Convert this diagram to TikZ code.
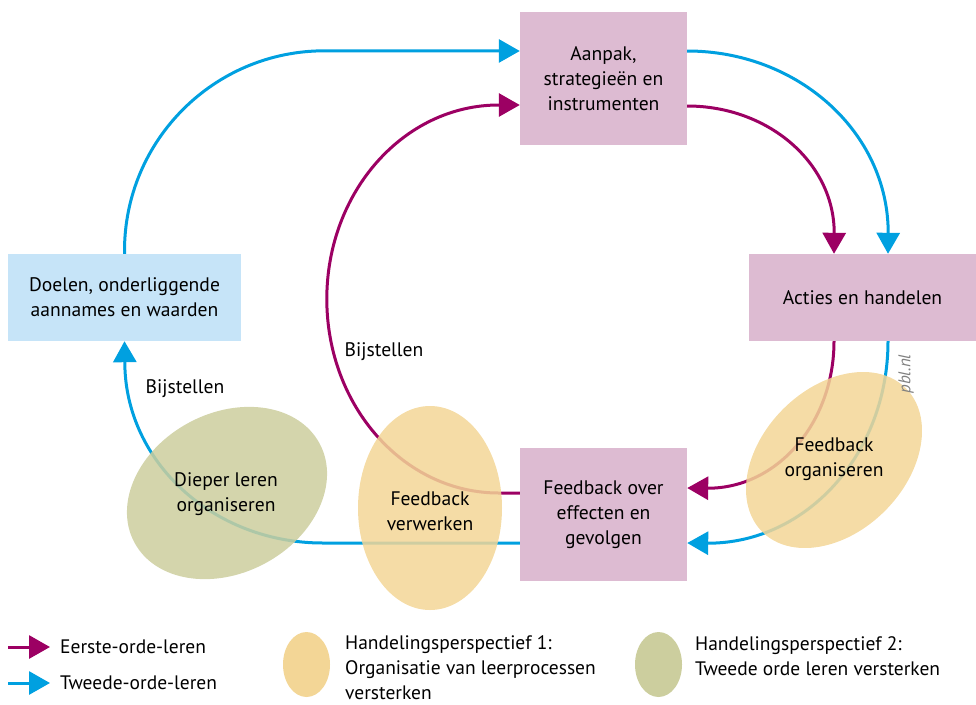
\documentclass[tikz,border=0pt]{standalone}
\usepackage{fontspec}
\setmainfont{PT Sans}
\usetikzlibrary{arrows.meta}
\definecolor{mag}{HTML}{9C0063}
\definecolor{cya}{HTML}{00A0E0}
\definecolor{pinkbox}{HTML}{DDBBD2}
\definecolor{bluebox}{HTML}{C6E4F8}
\definecolor{ora}{HTML}{F3D696}
\definecolor{gre}{HTML}{CCCE9E}
\newcommand\mainfs{\fontsize{19.6}{25}\selectfont}
\newcommand\legfs{\fontsize{19.5}{25}\selectfont}
\tikzset{
  boxnode/.style={inner sep=0pt, align=center, font=\mainfs},
  lbl/.style={inner sep=0pt, align=center, font=\mainfs},
  arr/.style={line width=3pt, -{Triangle[length=21pt,width=23pt]}},
  blob/.style={fill opacity=0.85},
  legtxt/.style={inner sep=0pt, align=left, font=\legfs, anchor=north west}
}
\begin{document}
\begin{tikzpicture}[x=1pt,y=-1pt]
\useasboundingbox (0,0) rectangle (976,704);
% boxes
\node[boxnode, fill=pinkbox, minimum width=167pt, minimum height=133pt] (aanpak) at (603.5,78.5) {Aanpak,\\strategieën en\\instrumenten};
\node[boxnode, fill=pinkbox, minimum width=227pt, minimum height=87pt] (acties) at (862.5,297.5) {Acties en handelen};
\node[boxnode, fill=bluebox, minimum width=233pt, minimum height=87pt] (doelen) at (124.5,297.5) {Doelen, onderliggende\\aannames en waarden};
\node[boxnode, fill=pinkbox, minimum width=167pt, minimum height=133pt] (fb) at (603.5,514.5) {Feedback over\\effecten en\\gevolgen};
% connectors
\draw[arr, cya] (doelen.north) -- ++(0,-3) arc[start angle=180, end angle=270, x radius=200, y radius=200] -- (aanpak.west |- 0,51);
\draw[arr, cya] (aanpak.east |- 0,51) arc[start angle=270, end angle=360, x radius=201, y radius=182] -- (acties.north -| 888,0);
\draw[arr, mag] (aanpak.east |- 0,106) arc[start angle=270, end angle=360, x radius=147, y radius=127] -- (acties.north -| 834,0);
\draw[arr, mag] (acties.south -| 834,0) arc[start angle=0, end angle=90, x radius=126, y radius=147] -- (fb.east |- 0,488);
\draw[arr, cya] (acties.south -| 888,0) arc[start angle=0, end angle=90, x radius=180, y radius=202] -- (fb.east |- 0,543);
\draw[arr, mag] (fb.west |- 0,493) -- ++(-21,0) arc[start angle=90, end angle=270, x radius=172, y radius=194] -- (aanpak.west |- 0,105);
\draw[arr, cya] (fb.west |- 0,543) -- ++(-197,0) arc[start angle=90, end angle=180, x radius=198, y radius=181] -- (doelen.south);
% blobs
\fill[gre, blob] (227,493) ellipse[x radius=105, y radius=80, rotate=28];
\fill[ora, blob] (430,508) ellipse[x radius=72, y radius=102];
\fill[ora, blob] (834,460) ellipse[x radius=101.5, y radius=72, rotate=45];
% labels
\node[lbl] (tdl) at (226,494) {Dieper leren\\organiseren};
\node[lbl] (tfv) at (430,511) {Feedback\\verwerken};
\node[lbl] (tfo) at (834,459) {Feedback\\organiseren};
\node[lbl] (bij1) at (185,389) {Bijstellen};
\node[lbl] (bij2) at (384,352) {Bijstellen};
\node[inner sep=0pt, rotate=90, text=black!50, font=\fontsize{17}{17}\selectfont\itshape] (pbl) at (906,374) {pbl.nl};
% legend
\coordinate (la1) at (8,647); \coordinate (la2) at (50,647);
\coordinate (lb1) at (8,683); \coordinate (lb2) at (50,683);
\draw[arr, mag] (la1) -- (la2);
\draw[arr, cya] (lb1) -- (lb2);
\node[inner sep=0pt, anchor=west, font=\legfs] (le1) at (60,647) {Eerste-orde-leren};
\node[inner sep=0pt, anchor=west, font=\legfs] (le2) at (60,683) {Tweede-orde-leren};
\fill[ora] (306.5,664.5) ellipse[x radius=23.5, y radius=32.5];
\fill[gre] (658.5,664.5) ellipse[x radius=23.5, y radius=32.5];
\node[legtxt] (lh1) at (345,635) {Handelingsperspectief 1:\\Organisatie van leerprocessen\\versterken};
\node[legtxt] (lh2) at (695,636) {Handelingsperspectief 2:\\Tweede orde leren versterken};
\end{tikzpicture}
\end{document}
